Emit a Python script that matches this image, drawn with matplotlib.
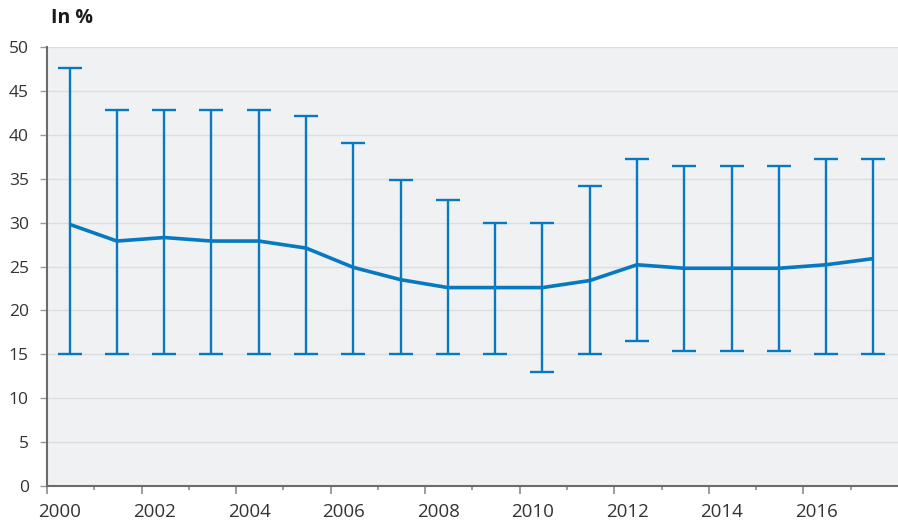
import matplotlib
matplotlib.use("Agg")
import matplotlib.pyplot as plt
import matplotlib.transforms as mtransforms
import numpy as np

plt.rcParams['font.family'] = ['Open Sans', 'DejaVu Sans']

years = list(range(2000, 2018))
mean = [29.8, 27.9, 28.3, 27.9, 27.9, 27.1, 24.9, 23.5, 22.6, 22.6, 22.6, 23.4,
        25.2, 24.8, 24.8, 24.8, 25.2, 25.9]
upper = [47.6, 42.8, 42.8, 42.8, 42.8, 42.1, 39.1, 34.9, 32.6, 30.0, 30.0, 34.2,
         37.2, 36.4, 36.4, 36.4, 37.2, 37.2]
lower = [15.0, 15.0, 15.0, 15.0, 15.0, 15.0, 15.0, 15.0, 15.0, 15.0, 13.0, 15.0,
         16.5, 15.4, 15.4, 15.4, 15.0, 15.0]

blue = '#0679c1'
x = np.array(years) + 0.48
mean = np.array(mean)
yerr = [mean - np.array(lower), np.array(upper) - mean]

fig = plt.figure(figsize=(8.98, 5.24), dpi=100)
ax = fig.add_axes([0.0523, 0.0725, 0.9477, 0.8378])
ax.set_facecolor('#f0f1f3')

ax.errorbar(x, mean, yerr=yerr, fmt='none', ecolor=blue, elinewidth=1.7,
            capsize=8.6, capthick=1.7, zorder=3)
ax.plot(x, mean, color=blue, lw=2.6, zorder=4, solid_capstyle='butt')

ax.set_xlim(2000, 2018)
ax.set_ylim(0, 50)
ax.set_yticks(range(0, 51, 5))
ax.set_xticks(range(2000, 2018, 2))
ax.set_xticks(range(2001, 2018, 2), minor=True)
ax.grid(axis='y', color='#dcdde0', lw=1, zorder=0)
ax.set_axisbelow(True)

for s in ['top', 'right']:
    ax.spines[s].set_visible(False)
for s in ['left', 'bottom']:
    ax.spines[s].set_color('#6b6b6b')
    ax.spines[s].set_linewidth(1.5)

ax.tick_params(axis='y', length=5, width=1, color='#9a9a9a', labelsize=12.5,
               labelcolor='#333333', pad=8)
ax.tick_params(axis='x', which='major', length=6, width=1.2, color='#8a8a8a',
               labelsize=13.5, labelcolor='#333333', pad=6)
ax.tick_params(axis='x', which='minor', length=3, width=1.2, color='#8a8a8a')

# year labels sit a little right of their tick marks
shift = mtransforms.ScaledTranslation(13 / 100, 0, fig.dpi_scale_trans)
for lab in ax.get_xticklabels():
    lab.set_transform(lab.get_transform() + shift)

fig.text(0.057, 0.965, 'In %', fontsize=14, fontweight='bold', color='#1a1a1a',
         va='center', ha='left')

fig.savefig('out.png', dpi=100)
